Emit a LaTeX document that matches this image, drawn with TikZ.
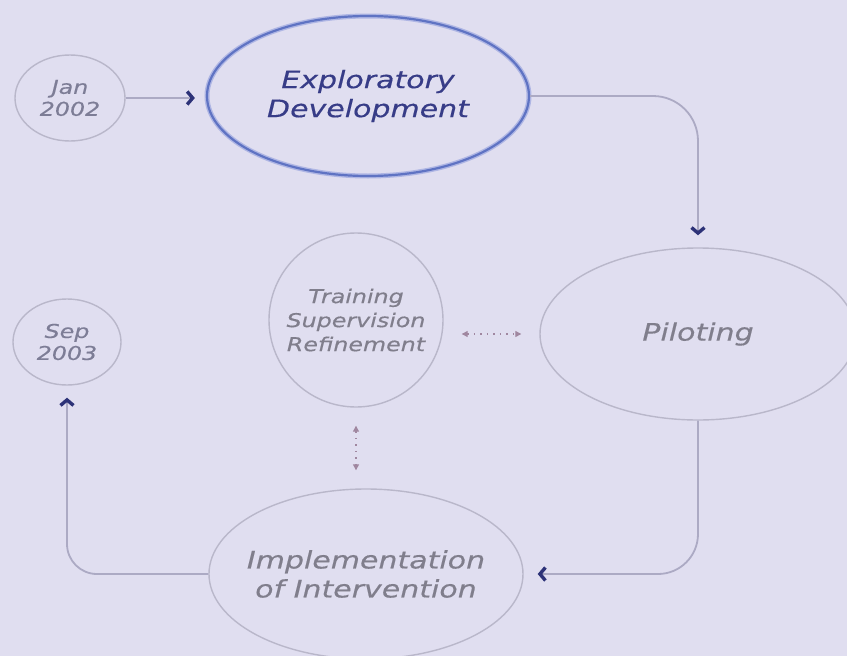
\documentclass[tikz,border=0pt]{standalone}
\usepackage{fontspec}
\setmainfont{DejaVu Sans}
\newfontfamily\diagfont[FakeStretch=1.25,FakeBold=0.4]{DejaVu Sans}
\usetikzlibrary{arrows.meta,shapes.geometric}
\definecolor{bg}{RGB}{224,222,240}
\definecolor{navytext}{RGB}{55,60,135}
\definecolor{datetext}{RGB}{125,125,150}
\definecolor{graytext}{RGB}{128,126,140}
\definecolor{ringgray}{RGB}{185,183,202}
\definecolor{conngray}{RGB}{172,170,196}
\definecolor{chev}{RGB}{45,50,120}
\definecolor{dotc}{RGB}{160,135,160}
\definecolor{expblue}{RGB}{95,115,195}
\definecolor{expglow}{RGB}{175,182,228}
\tikzset{
  ring/.style={ellipse, draw=ringgray, line width=1.4pt, inner sep=0pt, align=center},
  expring/.style={ellipse, draw=expblue, line width=2.2pt, inner sep=0pt, align=center,
     preaction={draw=expglow, line width=5pt}},
  conn/.style={draw=conngray, line width=1.8pt},
  chevtip/.style={-{Straight Barb[color=chev, length=5.5pt, width=13pt, line width=3.4pt]}},
  dotlink/.style={draw=dotc, line width=1.2pt, dash pattern=on 1.5pt off 5pt,
     {Triangle[length=6pt, width=6pt, color=dotc]}-{Triangle[length=6pt, width=6pt, color=dotc]}},
  datefont/.style={font=\diagfont\itshape\fontsize{19}{22}\selectfont, text=datetext},
  bigfont/.style={font=\diagfont\itshape\fontsize{24}{29}\selectfont},
  trainfont/.style={font=\diagfont\itshape\fontsize{19}{24}\selectfont, text=graytext}
}
\begin{document}
\begin{tikzpicture}[x=1pt,y=-1pt]
\fill[bg] (0,0) rectangle (847,656);
\useasboundingbox (0,0) rectangle (847,656);

\node[ring, datefont, minimum width=110pt, minimum height=86pt] (jan) at (70,98) {Jan\\2002};
\node[expring, bigfont, text=navytext, minimum width=322pt, minimum height=160pt] (expl) at (368,96) {Exploratory\\Development};
\node[ring, bigfont, text=graytext, minimum width=316pt, minimum height=172pt] (pil) at (698,334) {Piloting};
\node[ring, circle, trainfont, minimum size=174pt] (train) at (356,320) {Training\\Supervision\\Refinement};
\node[ring, bigfont, text=graytext, inner xsep=-25pt, minimum width=314pt, minimum height=170pt] (impl) at (366,574) {Implementation\\of Intervention};
\node[ring, datefont, minimum width=108pt, minimum height=86pt] (sep) at (67,342) {Sep\\2003};

\draw[conn, chevtip, shorten >=11pt] (jan.east) -- (jan.east -| expl.west);
\draw[conn, chevtip, rounded corners=45pt, shorten >=12pt] (expl.east) -| (pil.north);
\draw[conn, chevtip, rounded corners=40pt, shorten >=14pt] (pil.south) |- (impl.east);
\draw[conn, chevtip, rounded corners=30pt, shorten >=12pt] (impl.west) -| (sep.south);

\draw[dotlink, shorten <=18pt, shorten >=18pt] (train.east |- pil.west) -- (pil.west);
\draw[dotlink, shorten <=18pt, shorten >=18pt] (train.south) -- (train.south |- impl.north);
\end{tikzpicture}
\end{document}
